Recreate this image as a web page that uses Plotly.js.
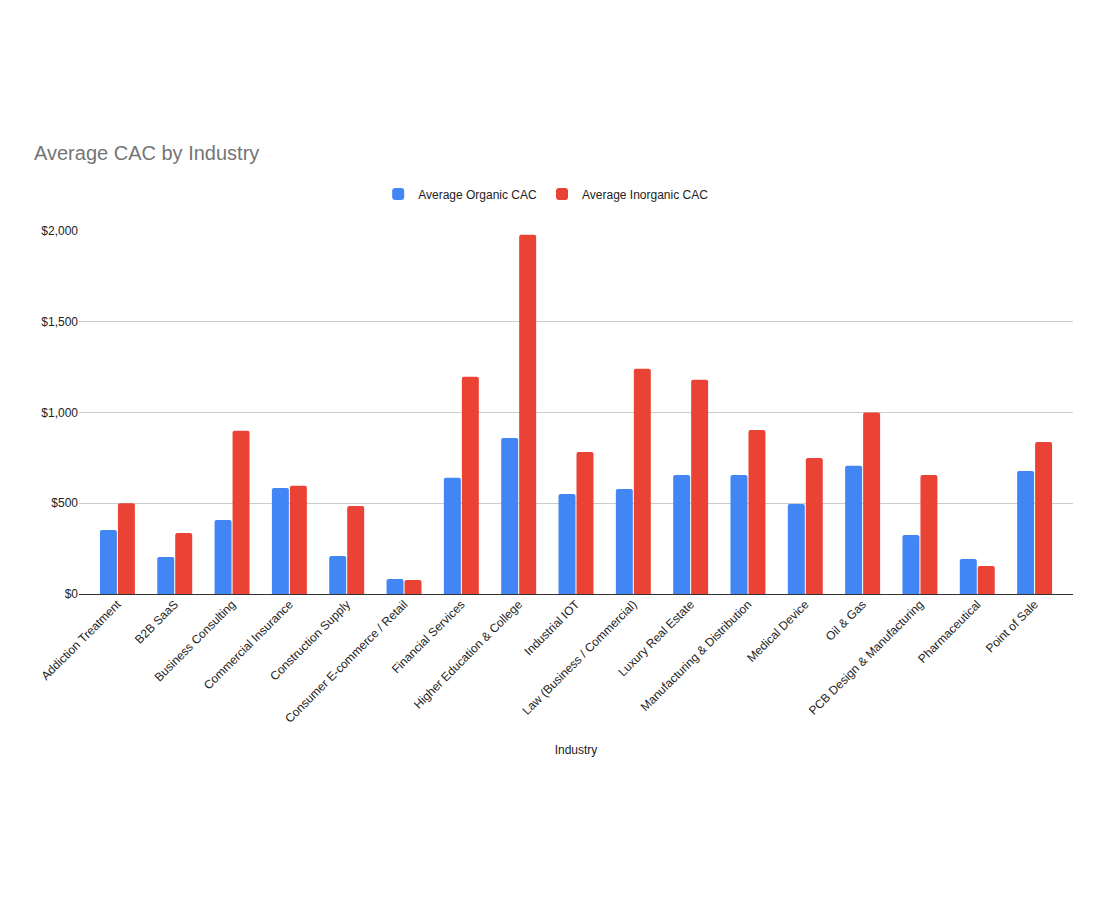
<!DOCTYPE html>
<html>
<head>
<meta charset="utf-8">
<script src="https://cdn.plot.ly/plotly-3.0.1.min.js"></script>
<style>html,body{margin:0;padding:0;background:#fff}#chart{width:1108px;height:900px}</style>
</head>
<body>
<div id="chart"></div>
<script>
const industries = [
  "Addiction Treatment", "B2B SaaS", "Business Consulting", "Commercial Insurance",
  "Construction Supply", "Consumer E-commerce / Retail", "Financial Services",
  "Higher Education & College", "Industrial IOT", "Law (Business / Commercial)",
  "Luxury Real Estate", "Manufacturing & Distribution", "Medical Device", "Oil & Gas",
  "PCB Design & Manufacturing", "Pharmaceutical", "Point of Sale"
];
const organicCAC = [353, 204, 408, 584, 210, 83, 640, 860, 551, 579, 656, 656, 496, 706, 325, 193, 678];
const inorganicCAC = [500, 336, 899, 596, 485, 77, 1197, 1980, 783, 1241, 1180, 904, 750, 1000, 656, 154, 838];
const yTicks = [0, 500, 1000, 1500, 2000];
const yTickLabels = ["$0", "$500", "$1,000", "$1,500", "$2,000"];

const traces = [
  {type: 'bar', name: 'Average Organic CAC', x: industries, y: organicCAC,
   marker: {color: '#4285F4', cornerradius: 2}},
  {type: 'bar', name: 'Average Inorganic CAC', x: industries, y: inorganicCAC,
   marker: {color: '#EA4335', cornerradius: 2}}
];

const pad = 0.17;

const layout = {
  width: 1108, height: 900,
  margin: {l: 79, r: 35, t: 231, b: 306},
  paper_bgcolor: '#fff', plot_bgcolor: '#fff',
  font: {family: 'Liberation Sans, Arial, sans-serif', size: 12, color: '#222'},
  title: {text: 'Average CAC by Industry', xref: 'container', yref: 'container',
          x: 34/1108, xanchor: 'left', y: 1 - 153/900, yanchor: 'middle',
          font: {size: 20, color: '#757575'}},
  barmode: 'group', bargap: 0.3725, bargroupgap: 0.056,
  showlegend: true,
  legend: {orientation: 'h', x: 0.47, xanchor: 'center', y: 1.102, yanchor: 'middle',
           font: {size: 12, color: '#222'}, itemwidth: 30},
  xaxis: {tickangle: -45, tickfont: {size: 12, color: '#222'}, showgrid: false,
          range: [-0.5 - pad, industries.length - 0.5 + pad],
          showline: false, ticks: '', automargin: false,
          title: {text: 'Industry', font: {size: 12, color: '#222'}, standoff: 20}},
  yaxis: {range: [0, 2000], tickvals: yTicks, ticktext: yTickLabels,
          gridcolor: '#cccccc', zeroline: true, zerolinecolor: '#333', zerolinewidth: 1,
          tickfont: {size: 12, color: '#222'}, ticks: '', automargin: false, fixedrange: true}
};

Plotly.newPlot('chart', traces, layout, {displayModeBar: false, staticPlot: true});
</script>
</body>
</html>
